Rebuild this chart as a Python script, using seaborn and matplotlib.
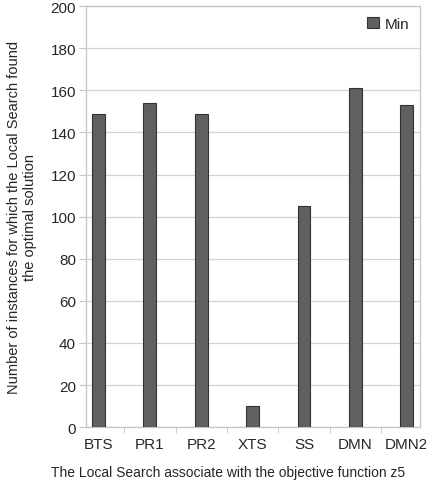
import matplotlib
matplotlib.use('Agg')
import matplotlib.pyplot as plt
import seaborn as sns

# Data
methods = ['BTS', 'PR1', 'PR2', 'XTS', 'SS', 'DMN', 'DMN2']
min_counts = [149, 154, 149, 10, 105, 161, 153]

sns.set_style('white')
plt.rcParams['font.family'] = ['Liberation Sans', 'DejaVu Sans']

fig = plt.figure(figsize=(4.27, 4.81), dpi=100)
ax = fig.add_axes([0.201, 0.110, 0.783, 0.875])

sns.barplot(x=methods, y=min_counts, color='#606060', width=0.25,
            edgecolor='#333333', linewidth=0.8, saturation=1,
            label='Min', ax=ax, zorder=3)

ax.set_ylim(0, 200)
ax.set_yticks(range(0, 201, 20))
ax.set_xlim(-0.245, 6.26)
ax.set_xticks([i + 0.5 for i in range(6)], minor=True)
ax.yaxis.grid(True, color='#d4d4d4', linewidth=0.9, zorder=0)
ax.set_axisbelow(True)

for s in ax.spines.values():
    s.set_color('#c4c4c4')
    s.set_linewidth(0.9)

ax.tick_params(axis='y', length=5, color='#c4c4c4', labelsize=11, pad=2, direction='out', left=True)
ax.tick_params(axis='x', which='major', length=0, labelsize=11, pad=7)
ax.tick_params(axis='x', which='minor', length=4, color='#c4c4c4', direction='out', bottom=True)

ax.set_ylabel('Number of instances for which the Local Search found\nthe optimal solution',
              fontsize=10.5, labelpad=10)
ax.set_xlabel('The Local Search associate with the objective function z5', fontsize=10)
# the x title sits left of the axes centre in the reference
ax.xaxis.set_label_coords(0.425, -0.09)

leg = ax.legend(loc='upper right', frameon=False, fontsize=11,
                handlelength=0.75, handleheight=0.75, handletextpad=0.4,
                borderaxespad=0.3)

fig.savefig('out.png', dpi=100)
